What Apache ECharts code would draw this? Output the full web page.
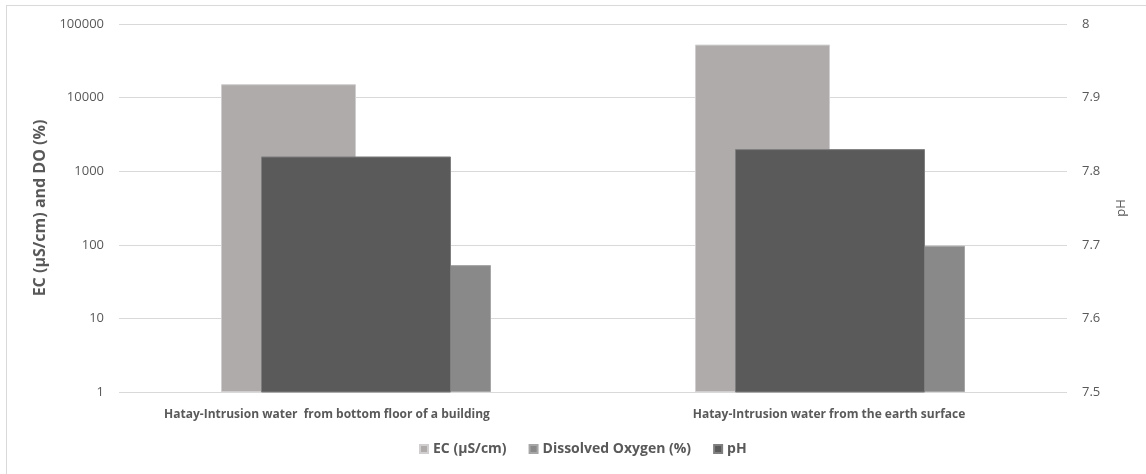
<!DOCTYPE html>
<html>
<head>
<meta charset="utf-8">
<script src="https://cdn.jsdelivr.net/npm/echarts@6/dist/echarts.min.js"></script>
<style>
html,body{margin:0;padding:0;background:#fff;overflow:hidden;}
#frame{position:absolute;left:6px;top:5px;width:1200px;height:500px;border-left:1px solid #d9d9d9;border-top:1px solid #d9d9d9;box-sizing:border-box;}
#c{position:absolute;left:0;top:0;width:1146px;height:474px;}
</style>
</head>
<body>
<div id="frame"></div>
<div id="c"></div>
<script>
const categories = ["Hatay-Intrusion water  from bottom floor of a building", "Hatay-Intrusion water from the earth surface"];
const ecValues = [15200, 52500];
const doValues = [53, 97];
const phValues = [7.82, 7.83];
const leftTicks = [1, 10, 100, 1000, 10000, 100000];
const rightTicks = [7.5, 7.6, 7.7, 7.8, 7.9, 8];

const FONT = "'Open Sans', sans-serif";
const TXT = '#595959';
const chart = echarts.init(document.getElementById('c'), null, {renderer: 'canvas'});
chart.setOption({
  animation: false,
  backgroundColor: 'transparent',
  textStyle: {fontFamily: FONT},
  grid: {left: 119, right: 79, top: 24, bottom: 82, containLabel: false},
  legend: {
    bottom: 13, left: 414,
    itemWidth: 8, itemHeight: 8, itemGap: 22,
    icon: 'rect',
    textStyle: {color: TXT, fontSize: 14, fontWeight: 'bold', fontFamily: FONT},
    data: ['EC (µS/cm)', 'Dissolved Oxygen (%)', 'pH']
  },
  xAxis: [
    {type: 'category', data: categories,
     axisLine: {show: false}, axisTick: {show: false},
     axisLabel: {color: TXT, fontSize: 12, fontWeight: 'bold', margin: 17, interval: 0,
       formatter: (v, i) => i === 0 ? '{a|' + v + '}' : '{b|' + v + '}',
       rich: {a: {color: TXT, fontSize: 12, fontWeight: 'bold', padding: [0, 58, 0, 0]},
              b: {color: TXT, fontSize: 12, fontWeight: 'bold', padding: [0, 2, 0, 0]}}}},
    {type: 'category', data: categories, show: false}
  ],
  yAxis: [
    {type: 'log', logBase: 10, min: leftTicks[0], max: leftTicks[leftTicks.length-1],
     name: 'EC (µS/cm) and DO (%)', nameLocation: 'middle', nameGap: 69,
     nameTextStyle: {color: TXT, fontSize: 16, fontWeight: 'bold'},
     axisLine: {show: false}, axisTick: {show: false},
     axisLabel: {color: TXT, fontSize: 13, margin: 15, formatter: v => String(Math.round(v))},
     splitLine: {show: true, lineStyle: {color: '#d9d9d9', width: 1}}},
    {type: 'value', min: rightTicks[0], max: rightTicks[rightTicks.length-1], interval: 0.1,
     position: 'right',
     name: 'pH', nameLocation: 'middle', nameGap: 48,
     nameTextStyle: {color: TXT, fontSize: 13},
     axisLine: {show: false}, axisTick: {show: false},
     axisLabel: {color: TXT, fontSize: 13, margin: 15, formatter: v => String(+v.toFixed(1))},
     splitLine: {show: false}}
  ],
  series: [
    {name: 'EC (µS/cm)', type: 'bar', xAxisIndex: 0, yAxisIndex: 0, data: ecValues,
     barWidth: 135, barGap: '0%', z: 2,
     itemStyle: {color: '#AFABAB', borderColor: '#d0cece', borderWidth: 1}},
    {name: 'Dissolved Oxygen (%)', type: 'bar', xAxisIndex: 0, yAxisIndex: 0, data: doValues,
     barWidth: 135, barGap: '0%', z: 2,
     itemStyle: {color: '#898989', borderColor: '#a6a6a6', borderWidth: 1}},
    {name: 'pH', type: 'bar', xAxisIndex: 1, yAxisIndex: 1, data: phValues,
     barWidth: 190, z: 3,
     itemStyle: {color: '#5A5A5A', borderColor: '#7f7f7f', borderWidth: 1}}
  ]
});
</script>
</body>
</html>
